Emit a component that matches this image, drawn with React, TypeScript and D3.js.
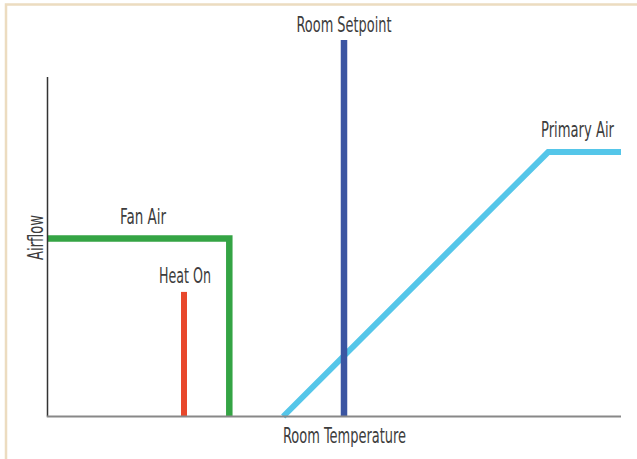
import React, { useEffect, useRef } from 'react';
import * as d3 from 'd3';

// abstract units: room temperature 0..100 along x, airflow 0..100 along y
const fanAir = [
  { t: 0, a: 52.4 },
  { t: 31.7, a: 52.4 },
  { t: 31.7, a: 0 },
];
const heatOn = [
  { t: 23.8, a: 0 },
  { t: 23.8, a: 36.7 },
];
const setpoint = [
  { t: 51.7, a: 0 },
  { t: 51.7, a: 110.9 },
];
const primaryAir = [
  { t: 41.1, a: 0 },
  { t: 87.3, a: 77.9 },
  { t: 100, a: 77.9 },
];

const W = 637;
const H = 459;
const FONT = "'Liberation Sans Narrow', 'DejaVu Sans Condensed', Roboto, sans-serif";

const App: React.FC = () => {
  const svgRef = useRef<SVGSVGElement>(null);

  useEffect(() => {
    if (!svgRef.current) return;
    const svg = d3.select(svgRef.current);
    svg.selectAll('*').remove();

    const x = d3.scaleLinear().domain([0, 100]).range([47.5, 621]);
    const y = d3.scaleLinear().domain([0, 100]).range([416.5, 77]);

    // frame (left + top only)
    svg.append('path')
      .attr('d', `M6,${H} V4.5 H${W}`)
      .attr('fill', 'none')
      .attr('stroke', '#ecdcc0')
      .attr('stroke-width', 2.5);

    const line = d3.line<{ t: number; a: number }>()
      .x(d => x(d.t))
      .y(d => y(d.a));

    const series: [typeof fanAir, string, number][] = [
      [fanAir, '#34a444', 6.5],
      [heatOn, '#e8472b', 6],
      [primaryAir, '#55c6e9', 6],
      [setpoint, '#3b55a2', 6.5],
    ];
    series.forEach(([data, color, w]) => {
      svg.append('path')
        .datum(data)
        .attr('d', line)
        .attr('fill', 'none')
        .attr('stroke', color)
        .attr('stroke-width', w)
        .attr('stroke-linejoin', 'miter');
    });

    // axes
    svg.append('line')
      .attr('x1', x(0)).attr('x2', x(0))
      .attr('y1', y(0)).attr('y2', y(100))
      .attr('stroke', '#333').attr('stroke-width', 1.5);
    svg.append('line')
      .attr('x1', x(0) - 0.75).attr('x2', x(100))
      .attr('y1', y(0)).attr('y2', y(0))
      .attr('stroke', '#888').attr('stroke-width', 2);

    const label = (txt: string, px: number, py: number, len: number, rotate = false) => {
      const t = svg.append('text')
        .attr('x', px).attr('y', py)
        .attr('text-anchor', 'middle')
        .attr('font-family', FONT)
        .attr('font-size', 22)
        .attr('fill', '#3d3d3d')
        .attr('textLength', len)
        .attr('lengthAdjust', 'spacingAndGlyphs')
        .text(txt);
      if (rotate) t.attr('transform', `rotate(-90, ${px}, ${py})`);
    };

    label('Room Setpoint', x(setpoint[0].t), 31.7, 95);
    label('Fan Air', 143, 224, 46);
    label('Heat On', x(heatOn[0].t) + 1, 282.7, 52);
    label('Primary Air', 577.5, 136.7, 73);
    label('Room Temperature', 344.5, 443.3, 123);
    label('Airflow', 42.7, 237.5, 45, true);
  }, []);

  return (
    <svg
      ref={svgRef}
      width={W}
      height={H}
      style={{ position: 'absolute', left: 0, top: 0, background: '#fff' }}
    />
  );
};

export default App;
